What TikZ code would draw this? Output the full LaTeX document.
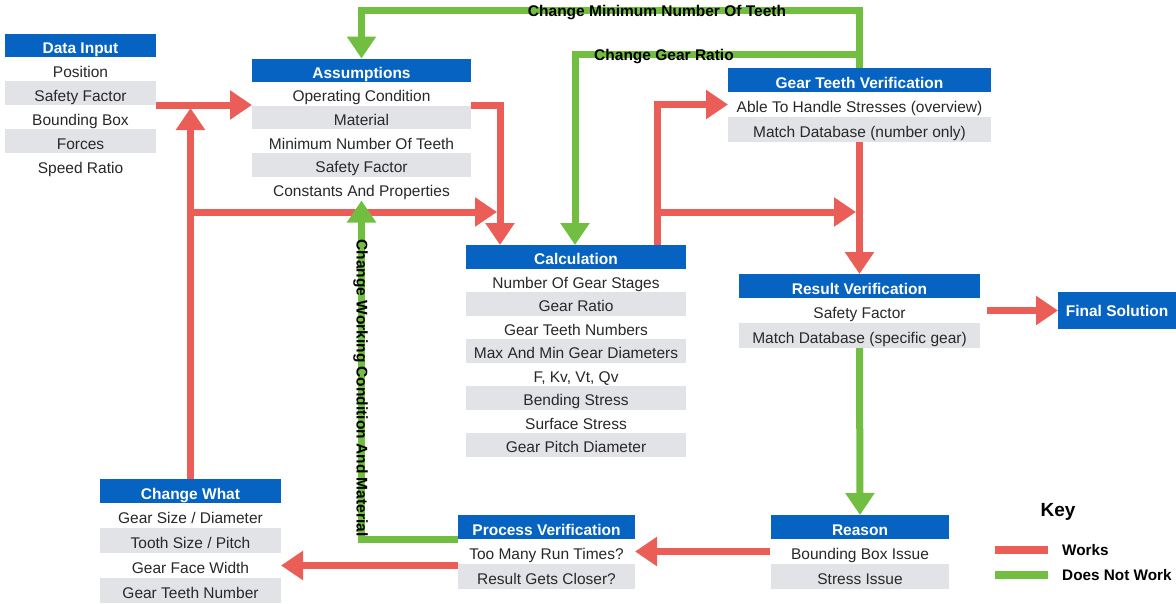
\documentclass[tikz,border=0pt]{standalone}
\usepackage{fontspec}
\setmainfont{Liberation Sans}
\usetikzlibrary{arrows.meta}

\definecolor{hdrblue}{RGB}{6,99,193}
\definecolor{rowgray}{RGB}{226,227,231}
\definecolor{bodytext}{RGB}{40,40,40}
\definecolor{okred}{RGB}{235,94,88}
\definecolor{badgreen}{RGB}{114,190,64}

\tikzset{
  cell/.style={anchor=north west, inner sep=0pt, outer sep=0pt, text height=16pt, text depth=0pt},
  hdr/.style={cell, fill=hdrblue, text=white, font=\fontsize{15.5}{16}\selectfont\bfseries},
  rowcell/.style={cell, text=bodytext, font=\fontsize{15.5}{16}\selectfont},
  flow/.style={line width=7pt, -{Triangle[width=28pt,length=22pt]}},
  okflow/.style={flow, draw=okred},
  badflow/.style={flow, draw=badgreen},
  lbl/.style={font=\fontsize{15.5}{16}\selectfont\bfseries, text=black, inner sep=0pt, text height=11pt, text depth=0pt},
  keytext/.style={font=\fontsize{15.3}{16}\selectfont\bfseries, text=black, inner sep=0pt, anchor=west},
}

% table: name, left x, top y, width, header height, row pitch, title, rows
\newcommand\gtable[8]{%
  \node[hdr, minimum width=#4pt, minimum height=#5pt] (#1) at (#2,#3) {#7};
  \foreach \t [count=\i] in {#8} {%
    \pgfmathsetmacro\rowtop{#3+#5+(\i-1)*#6}%
    \ifodd\i\relax \def\rowfill{white}\else \def\rowfill{rowgray}\fi
    \node[rowcell, fill=\rowfill, minimum width=#4pt, minimum height=#6pt] (#1-\i) at (#2,\rowtop) {\t};
  }%
}

\begin{document}
\begin{tikzpicture}[x=1pt, y=-1pt]
\useasboundingbox (0,0) rectangle (1176,603);

% ---- tables ----
\gtable{din}{5}{33.5}{151}{23.5}{24}{Data Input}{Position, Safety Factor, Bounding Box, Forces, Speed Ratio}
\gtable{asm}{252}{58.5}{219}{23.5}{23.7}{Assumptions}{Operating Condition, Material, Minimum Number Of Teeth, Safety Factor, Constants And Properties}
\gtable{gtv}{728}{68}{263}{24}{25}{Gear Teeth Verification}{Able To Handle Stresses (overview), Match Database (number only)}
\gtable{calc}{466}{245}{220}{23.5}{23.5}{Calculation}{Number Of Gear Stages, Gear Ratio, Gear Teeth Numbers, Max And Min Gear Diameters, {F, Kv, Vt, Qv}, Bending Stress, Surface Stress, Gear Pitch Diameter}
\gtable{rv}{739}{274}{241}{24}{25}{Result Verification}{Safety Factor, Match Database (specific gear)}
\gtable{rs}{771}{515}{178}{24}{25}{Reason}{Bounding Box Issue, Stress Issue}
\gtable{pv}{458}{515}{177}{24}{25}{Process Verification}{Too Many Run Times?, Result Gets Closer?}
\gtable{cw}{100}{479}{181}{24}{25}{Change What}{Gear Size / Diameter, Tooth Size / Pitch, Gear Face Width, Gear Teeth Number}
\node[hdr, minimum width=118pt, minimum height=37pt, text height=11pt] (fs) at (1058,292) {Final Solution};

% ---- bend points ----
\coordinate (jA) at (cw.north |- din-2.south east);
\coordinate (jB) at (190.5,212);
\coordinate (jC) at (497,212);
\coordinate (cx) at (500,0);
\coordinate (dx) at (657,0);
\coordinate (jE) at (856,212);
\coordinate (tj) at (0,10);
\coordinate (kk) at (0,54);
\coordinate (gx) at (575,0);

% ---- paths that work ----
\draw[okflow] (din-2.south east) -- (din-2.south east -| asm.west);
\draw[okflow] (cw.north) -- ([yshift=-3pt]jA);
\draw[okflow] (jB) -- (jC);
\draw[okflow] (asm-1.south east) -| (cx |- calc.north);
\draw[okflow] (dx |- calc.north) |- (gtv-1.west);
\draw[okflow] (dx |- jB) -- (jE);
\draw[okflow] (gtv-2.south) -- (rv.north);
\draw[okflow] ([xshift=7pt]rv-1.east) -- (fs.west);
\draw[okflow] ([xshift=-1pt]rs-1.west) -- (pv-1.east);
\draw[okflow] (pv.west |- cw-3.east) -- (cw-3.east);

% ---- paths that do not work ----
\draw[badflow] (gtv.north) -- (gtv.north |- tj) -| (asm.north);
\draw[badflow] (gtv.north |- kk) -| (gx |- calc.north);
\draw[badflow] (pv.south west) -| (asm-5.south);
\draw[badflow] (rv-2.south) -- (rs.north);

% ---- path labels ----
\node[lbl] (lblteeth) at (657,11) {Change Minimum Number Of Teeth};
\node[lbl] (lblratio) at (664,55) {Change Gear Ratio};
\node[lbl, rotate=-90] (lblcond) at (362,388) {Change Working Condition And Material};

% ---- key ----
\node[font=\fontsize{19}{20}\selectfont\bfseries, inner sep=0pt] (key) at (1058,512) {Key};
\coordinate (kr1) at (995,550);
\coordinate (kr2) at (1048,550);
\coordinate (kg1) at (995,575);
\coordinate (kg2) at (1048,575);
\draw[line width=8pt, okred] (kr1) -- (kr2);
\draw[line width=8pt, badgreen] (kg1) -- (kg2);
\node[keytext] (kwork) at (1062,550) {Works};
\node[keytext] (kfail) at (1062,575) {Does Not Work};
\end{tikzpicture}
\end{document}
